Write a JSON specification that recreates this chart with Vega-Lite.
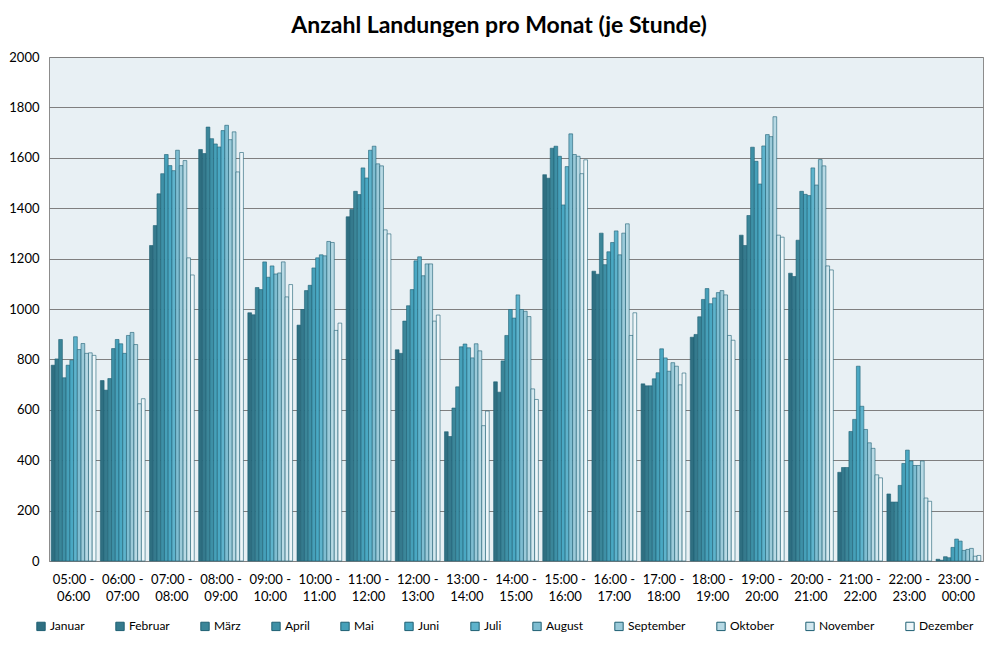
{
  "$schema": "https://vega.github.io/schema/vega-lite/v6.json",
  "width": 934,
  "height": 504,
  "autosize": "none",
  "padding": {"left": 49, "top": 57, "right": 17, "bottom": 86},
  "background": "white",
  "title": {
    "text": "Anzahl Landungen pro Monat (je Stunde)",
    "font": "Lato",
    "fontSize": 23,
    "fontWeight": "bold",
    "color": "#000000",
    "anchor": "middle",
    "dx": -17,
    "offset": 13
  },
  "data": {
    "values": [
      {"Stunde": "05:00 - 06:00", "Monat": "Januar", "Landungen": 777},
      {"Stunde": "05:00 - 06:00", "Monat": "Februar", "Landungen": 802},
      {"Stunde": "05:00 - 06:00", "Monat": "März", "Landungen": 879},
      {"Stunde": "05:00 - 06:00", "Monat": "April", "Landungen": 727},
      {"Stunde": "05:00 - 06:00", "Monat": "Mai", "Landungen": 777},
      {"Stunde": "05:00 - 06:00", "Monat": "Juni", "Landungen": 797},
      {"Stunde": "05:00 - 06:00", "Monat": "Juli", "Landungen": 890},
      {"Stunde": "05:00 - 06:00", "Monat": "August", "Landungen": 839},
      {"Stunde": "05:00 - 06:00", "Monat": "September", "Landungen": 863},
      {"Stunde": "05:00 - 06:00", "Monat": "Oktober", "Landungen": 824},
      {"Stunde": "05:00 - 06:00", "Monat": "November", "Landungen": 826},
      {"Stunde": "05:00 - 06:00", "Monat": "Dezember", "Landungen": 816},
      {"Stunde": "06:00 - 07:00", "Monat": "Januar", "Landungen": 716},
      {"Stunde": "06:00 - 07:00", "Monat": "Februar", "Landungen": 678},
      {"Stunde": "06:00 - 07:00", "Monat": "März", "Landungen": 724},
      {"Stunde": "06:00 - 07:00", "Monat": "April", "Landungen": 843},
      {"Stunde": "06:00 - 07:00", "Monat": "Mai", "Landungen": 879},
      {"Stunde": "06:00 - 07:00", "Monat": "Juni", "Landungen": 862},
      {"Stunde": "06:00 - 07:00", "Monat": "Juli", "Landungen": 824},
      {"Stunde": "06:00 - 07:00", "Monat": "August", "Landungen": 895},
      {"Stunde": "06:00 - 07:00", "Monat": "September", "Landungen": 907},
      {"Stunde": "06:00 - 07:00", "Monat": "Oktober", "Landungen": 859},
      {"Stunde": "06:00 - 07:00", "Monat": "November", "Landungen": 624},
      {"Stunde": "06:00 - 07:00", "Monat": "Dezember", "Landungen": 644},
      {"Stunde": "07:00 - 08:00", "Monat": "Januar", "Landungen": 1252},
      {"Stunde": "07:00 - 08:00", "Monat": "Februar", "Landungen": 1331},
      {"Stunde": "07:00 - 08:00", "Monat": "März", "Landungen": 1457},
      {"Stunde": "07:00 - 08:00", "Monat": "April", "Landungen": 1537},
      {"Stunde": "07:00 - 08:00", "Monat": "Mai", "Landungen": 1613},
      {"Stunde": "07:00 - 08:00", "Monat": "Juni", "Landungen": 1569},
      {"Stunde": "07:00 - 08:00", "Monat": "Juli", "Landungen": 1549},
      {"Stunde": "07:00 - 08:00", "Monat": "August", "Landungen": 1630},
      {"Stunde": "07:00 - 08:00", "Monat": "September", "Landungen": 1569},
      {"Stunde": "07:00 - 08:00", "Monat": "Oktober", "Landungen": 1589},
      {"Stunde": "07:00 - 08:00", "Monat": "November", "Landungen": 1203},
      {"Stunde": "07:00 - 08:00", "Monat": "Dezember", "Landungen": 1135},
      {"Stunde": "08:00 - 09:00", "Monat": "Januar", "Landungen": 1633},
      {"Stunde": "08:00 - 09:00", "Monat": "Februar", "Landungen": 1617},
      {"Stunde": "08:00 - 09:00", "Monat": "März", "Landungen": 1722},
      {"Stunde": "08:00 - 09:00", "Monat": "April", "Landungen": 1676},
      {"Stunde": "08:00 - 09:00", "Monat": "Mai", "Landungen": 1655},
      {"Stunde": "08:00 - 09:00", "Monat": "Juni", "Landungen": 1643},
      {"Stunde": "08:00 - 09:00", "Monat": "Juli", "Landungen": 1708},
      {"Stunde": "08:00 - 09:00", "Monat": "August", "Landungen": 1729},
      {"Stunde": "08:00 - 09:00", "Monat": "September", "Landungen": 1672},
      {"Stunde": "08:00 - 09:00", "Monat": "Oktober", "Landungen": 1703},
      {"Stunde": "08:00 - 09:00", "Monat": "November", "Landungen": 1544},
      {"Stunde": "08:00 - 09:00", "Monat": "Dezember", "Landungen": 1621},
      {"Stunde": "09:00 - 10:00", "Monat": "Januar", "Landungen": 985},
      {"Stunde": "09:00 - 10:00", "Monat": "Februar", "Landungen": 977},
      {"Stunde": "09:00 - 10:00", "Monat": "März", "Landungen": 1085},
      {"Stunde": "09:00 - 10:00", "Monat": "April", "Landungen": 1077},
      {"Stunde": "09:00 - 10:00", "Monat": "Mai", "Landungen": 1187},
      {"Stunde": "09:00 - 10:00", "Monat": "Juni", "Landungen": 1126},
      {"Stunde": "09:00 - 10:00", "Monat": "Juli", "Landungen": 1171},
      {"Stunde": "09:00 - 10:00", "Monat": "August", "Landungen": 1139},
      {"Stunde": "09:00 - 10:00", "Monat": "September", "Landungen": 1143},
      {"Stunde": "09:00 - 10:00", "Monat": "Oktober", "Landungen": 1187},
      {"Stunde": "09:00 - 10:00", "Monat": "November", "Landungen": 1048},
      {"Stunde": "09:00 - 10:00", "Monat": "Dezember", "Landungen": 1097},
      {"Stunde": "10:00 - 11:00", "Monat": "Januar", "Landungen": 936},
      {"Stunde": "10:00 - 11:00", "Monat": "Februar", "Landungen": 998},
      {"Stunde": "10:00 - 11:00", "Monat": "März", "Landungen": 1073},
      {"Stunde": "10:00 - 11:00", "Monat": "April", "Landungen": 1094},
      {"Stunde": "10:00 - 11:00", "Monat": "Mai", "Landungen": 1163},
      {"Stunde": "10:00 - 11:00", "Monat": "Juni", "Landungen": 1203},
      {"Stunde": "10:00 - 11:00", "Monat": "Juli", "Landungen": 1215},
      {"Stunde": "10:00 - 11:00", "Monat": "August", "Landungen": 1211},
      {"Stunde": "10:00 - 11:00", "Monat": "September", "Landungen": 1268},
      {"Stunde": "10:00 - 11:00", "Monat": "Oktober", "Landungen": 1264},
      {"Stunde": "10:00 - 11:00", "Monat": "November", "Landungen": 915},
      {"Stunde": "10:00 - 11:00", "Monat": "Dezember", "Landungen": 944},
      {"Stunde": "11:00 - 12:00", "Monat": "Januar", "Landungen": 1366},
      {"Stunde": "11:00 - 12:00", "Monat": "Februar", "Landungen": 1395},
      {"Stunde": "11:00 - 12:00", "Monat": "März", "Landungen": 1467},
      {"Stunde": "11:00 - 12:00", "Monat": "April", "Landungen": 1454},
      {"Stunde": "11:00 - 12:00", "Monat": "Mai", "Landungen": 1560},
      {"Stunde": "11:00 - 12:00", "Monat": "Juni", "Landungen": 1520},
      {"Stunde": "11:00 - 12:00", "Monat": "Juli", "Landungen": 1630},
      {"Stunde": "11:00 - 12:00", "Monat": "August", "Landungen": 1646},
      {"Stunde": "11:00 - 12:00", "Monat": "September", "Landungen": 1576},
      {"Stunde": "11:00 - 12:00", "Monat": "Oktober", "Landungen": 1568},
      {"Stunde": "11:00 - 12:00", "Monat": "November", "Landungen": 1314},
      {"Stunde": "11:00 - 12:00", "Monat": "Dezember", "Landungen": 1298},
      {"Stunde": "12:00 - 13:00", "Monat": "Januar", "Landungen": 838},
      {"Stunde": "12:00 - 13:00", "Monat": "Februar", "Landungen": 824},
      {"Stunde": "12:00 - 13:00", "Monat": "März", "Landungen": 952},
      {"Stunde": "12:00 - 13:00", "Monat": "April", "Landungen": 1013},
      {"Stunde": "12:00 - 13:00", "Monat": "Mai", "Landungen": 1077},
      {"Stunde": "12:00 - 13:00", "Monat": "Juni", "Landungen": 1191},
      {"Stunde": "12:00 - 13:00", "Monat": "Juli", "Landungen": 1207},
      {"Stunde": "12:00 - 13:00", "Monat": "August", "Landungen": 1132},
      {"Stunde": "12:00 - 13:00", "Monat": "September", "Landungen": 1179},
      {"Stunde": "12:00 - 13:00", "Monat": "Oktober", "Landungen": 1179},
      {"Stunde": "12:00 - 13:00", "Monat": "November", "Landungen": 952},
      {"Stunde": "12:00 - 13:00", "Monat": "Dezember", "Landungen": 976},
      {"Stunde": "13:00 - 14:00", "Monat": "Januar", "Landungen": 513},
      {"Stunde": "13:00 - 14:00", "Monat": "Februar", "Landungen": 494},
      {"Stunde": "13:00 - 14:00", "Monat": "März", "Landungen": 607},
      {"Stunde": "13:00 - 14:00", "Monat": "April", "Landungen": 691},
      {"Stunde": "13:00 - 14:00", "Monat": "Mai", "Landungen": 850},
      {"Stunde": "13:00 - 14:00", "Monat": "Juni", "Landungen": 861},
      {"Stunde": "13:00 - 14:00", "Monat": "Juli", "Landungen": 846},
      {"Stunde": "13:00 - 14:00", "Monat": "August", "Landungen": 806},
      {"Stunde": "13:00 - 14:00", "Monat": "September", "Landungen": 862},
      {"Stunde": "13:00 - 14:00", "Monat": "Oktober", "Landungen": 834},
      {"Stunde": "13:00 - 14:00", "Monat": "November", "Landungen": 537},
      {"Stunde": "13:00 - 14:00", "Monat": "Dezember", "Landungen": 595},
      {"Stunde": "14:00 - 15:00", "Monat": "Januar", "Landungen": 711},
      {"Stunde": "14:00 - 15:00", "Monat": "Februar", "Landungen": 670},
      {"Stunde": "14:00 - 15:00", "Monat": "März", "Landungen": 794},
      {"Stunde": "14:00 - 15:00", "Monat": "April", "Landungen": 895},
      {"Stunde": "14:00 - 15:00", "Monat": "Mai", "Landungen": 998},
      {"Stunde": "14:00 - 15:00", "Monat": "Juni", "Landungen": 964},
      {"Stunde": "14:00 - 15:00", "Monat": "Juli", "Landungen": 1056},
      {"Stunde": "14:00 - 15:00", "Monat": "August", "Landungen": 998},
      {"Stunde": "14:00 - 15:00", "Monat": "September", "Landungen": 991},
      {"Stunde": "14:00 - 15:00", "Monat": "Oktober", "Landungen": 970},
      {"Stunde": "14:00 - 15:00", "Monat": "November", "Landungen": 683},
      {"Stunde": "14:00 - 15:00", "Monat": "Dezember", "Landungen": 641},
      {"Stunde": "15:00 - 16:00", "Monat": "Januar", "Landungen": 1533},
      {"Stunde": "15:00 - 16:00", "Monat": "Februar", "Landungen": 1519},
      {"Stunde": "15:00 - 16:00", "Monat": "März", "Landungen": 1638},
      {"Stunde": "15:00 - 16:00", "Monat": "April", "Landungen": 1646},
      {"Stunde": "15:00 - 16:00", "Monat": "Mai", "Landungen": 1606},
      {"Stunde": "15:00 - 16:00", "Monat": "Juni", "Landungen": 1413},
      {"Stunde": "15:00 - 16:00", "Monat": "Juli", "Landungen": 1565},
      {"Stunde": "15:00 - 16:00", "Monat": "August", "Landungen": 1695},
      {"Stunde": "15:00 - 16:00", "Monat": "September", "Landungen": 1613},
      {"Stunde": "15:00 - 16:00", "Monat": "Oktober", "Landungen": 1606},
      {"Stunde": "15:00 - 16:00", "Monat": "November", "Landungen": 1537},
      {"Stunde": "15:00 - 16:00", "Monat": "Dezember", "Landungen": 1592},
      {"Stunde": "16:00 - 17:00", "Monat": "Januar", "Landungen": 1150},
      {"Stunde": "16:00 - 17:00", "Monat": "Februar", "Landungen": 1138},
      {"Stunde": "16:00 - 17:00", "Monat": "März", "Landungen": 1301},
      {"Stunde": "16:00 - 17:00", "Monat": "April", "Landungen": 1176},
      {"Stunde": "16:00 - 17:00", "Monat": "Mai", "Landungen": 1227},
      {"Stunde": "16:00 - 17:00", "Monat": "Juni", "Landungen": 1264},
      {"Stunde": "16:00 - 17:00", "Monat": "Juli", "Landungen": 1310},
      {"Stunde": "16:00 - 17:00", "Monat": "August", "Landungen": 1215},
      {"Stunde": "16:00 - 17:00", "Monat": "September", "Landungen": 1301},
      {"Stunde": "16:00 - 17:00", "Monat": "Oktober", "Landungen": 1338},
      {"Stunde": "16:00 - 17:00", "Monat": "November", "Landungen": 895},
      {"Stunde": "16:00 - 17:00", "Monat": "Dezember", "Landungen": 985},
      {"Stunde": "17:00 - 18:00", "Monat": "Januar", "Landungen": 703},
      {"Stunde": "17:00 - 18:00", "Monat": "Februar", "Landungen": 695},
      {"Stunde": "17:00 - 18:00", "Monat": "März", "Landungen": 695},
      {"Stunde": "17:00 - 18:00", "Monat": "April", "Landungen": 723},
      {"Stunde": "17:00 - 18:00", "Monat": "Mai", "Landungen": 747},
      {"Stunde": "17:00 - 18:00", "Monat": "Juni", "Landungen": 842},
      {"Stunde": "17:00 - 18:00", "Monat": "Juli", "Landungen": 806},
      {"Stunde": "17:00 - 18:00", "Monat": "August", "Landungen": 753},
      {"Stunde": "17:00 - 18:00", "Monat": "September", "Landungen": 787},
      {"Stunde": "17:00 - 18:00", "Monat": "Oktober", "Landungen": 773},
      {"Stunde": "17:00 - 18:00", "Monat": "November", "Landungen": 699},
      {"Stunde": "17:00 - 18:00", "Monat": "Dezember", "Landungen": 746},
      {"Stunde": "18:00 - 19:00", "Monat": "Januar", "Landungen": 888},
      {"Stunde": "18:00 - 19:00", "Monat": "Februar", "Landungen": 899},
      {"Stunde": "18:00 - 19:00", "Monat": "März", "Landungen": 969},
      {"Stunde": "18:00 - 19:00", "Monat": "April", "Landungen": 1038},
      {"Stunde": "18:00 - 19:00", "Monat": "Mai", "Landungen": 1081},
      {"Stunde": "18:00 - 19:00", "Monat": "Juni", "Landungen": 1021},
      {"Stunde": "18:00 - 19:00", "Monat": "Juli", "Landungen": 1044},
      {"Stunde": "18:00 - 19:00", "Monat": "August", "Landungen": 1065},
      {"Stunde": "18:00 - 19:00", "Monat": "September", "Landungen": 1073},
      {"Stunde": "18:00 - 19:00", "Monat": "Oktober", "Landungen": 1056},
      {"Stunde": "18:00 - 19:00", "Monat": "November", "Landungen": 895},
      {"Stunde": "18:00 - 19:00", "Monat": "Dezember", "Landungen": 876},
      {"Stunde": "19:00 - 20:00", "Monat": "Januar", "Landungen": 1293},
      {"Stunde": "19:00 - 20:00", "Monat": "Februar", "Landungen": 1252},
      {"Stunde": "19:00 - 20:00", "Monat": "März", "Landungen": 1371},
      {"Stunde": "19:00 - 20:00", "Monat": "April", "Landungen": 1642},
      {"Stunde": "19:00 - 20:00", "Monat": "Mai", "Landungen": 1586},
      {"Stunde": "19:00 - 20:00", "Monat": "Juni", "Landungen": 1496},
      {"Stunde": "19:00 - 20:00", "Monat": "Juli", "Landungen": 1647},
      {"Stunde": "19:00 - 20:00", "Monat": "August", "Landungen": 1692},
      {"Stunde": "19:00 - 20:00", "Monat": "September", "Landungen": 1684},
      {"Stunde": "19:00 - 20:00", "Monat": "Oktober", "Landungen": 1763},
      {"Stunde": "19:00 - 20:00", "Monat": "November", "Landungen": 1293},
      {"Stunde": "19:00 - 20:00", "Monat": "Dezember", "Landungen": 1285},
      {"Stunde": "20:00 - 21:00", "Monat": "Januar", "Landungen": 1142},
      {"Stunde": "20:00 - 21:00", "Monat": "Februar", "Landungen": 1129},
      {"Stunde": "20:00 - 21:00", "Monat": "März", "Landungen": 1273},
      {"Stunde": "20:00 - 21:00", "Monat": "April", "Landungen": 1467},
      {"Stunde": "20:00 - 21:00", "Monat": "Mai", "Landungen": 1455},
      {"Stunde": "20:00 - 21:00", "Monat": "Juni", "Landungen": 1450},
      {"Stunde": "20:00 - 21:00", "Monat": "Juli", "Landungen": 1560},
      {"Stunde": "20:00 - 21:00", "Monat": "August", "Landungen": 1492},
      {"Stunde": "20:00 - 21:00", "Monat": "September", "Landungen": 1593},
      {"Stunde": "20:00 - 21:00", "Monat": "Oktober", "Landungen": 1568},
      {"Stunde": "20:00 - 21:00", "Monat": "November", "Landungen": 1171},
      {"Stunde": "20:00 - 21:00", "Monat": "Dezember", "Landungen": 1155},
      {"Stunde": "21:00 - 22:00", "Monat": "Januar", "Landungen": 352},
      {"Stunde": "21:00 - 22:00", "Monat": "Februar", "Landungen": 371},
      {"Stunde": "21:00 - 22:00", "Monat": "März", "Landungen": 371},
      {"Stunde": "21:00 - 22:00", "Monat": "April", "Landungen": 514},
      {"Stunde": "21:00 - 22:00", "Monat": "Mai", "Landungen": 562},
      {"Stunde": "21:00 - 22:00", "Monat": "Juni", "Landungen": 773},
      {"Stunde": "21:00 - 22:00", "Monat": "Juli", "Landungen": 614},
      {"Stunde": "21:00 - 22:00", "Monat": "August", "Landungen": 522},
      {"Stunde": "21:00 - 22:00", "Monat": "September", "Landungen": 469},
      {"Stunde": "21:00 - 22:00", "Monat": "Oktober", "Landungen": 447},
      {"Stunde": "21:00 - 22:00", "Monat": "November", "Landungen": 342},
      {"Stunde": "21:00 - 22:00", "Monat": "Dezember", "Landungen": 330},
      {"Stunde": "22:00 - 23:00", "Monat": "Januar", "Landungen": 266},
      {"Stunde": "22:00 - 23:00", "Monat": "Februar", "Landungen": 234},
      {"Stunde": "22:00 - 23:00", "Monat": "März", "Landungen": 234},
      {"Stunde": "22:00 - 23:00", "Monat": "April", "Landungen": 300},
      {"Stunde": "22:00 - 23:00", "Monat": "Mai", "Landungen": 387},
      {"Stunde": "22:00 - 23:00", "Monat": "Juni", "Landungen": 440},
      {"Stunde": "22:00 - 23:00", "Monat": "Juli", "Landungen": 397},
      {"Stunde": "22:00 - 23:00", "Monat": "August", "Landungen": 379},
      {"Stunde": "22:00 - 23:00", "Monat": "September", "Landungen": 379},
      {"Stunde": "22:00 - 23:00", "Monat": "Oktober", "Landungen": 397},
      {"Stunde": "22:00 - 23:00", "Monat": "November", "Landungen": 250},
      {"Stunde": "22:00 - 23:00", "Monat": "Dezember", "Landungen": 237},
      {"Stunde": "23:00 - 00:00", "Monat": "Januar", "Landungen": 7},
      {"Stunde": "23:00 - 00:00", "Monat": "Februar", "Landungen": 3},
      {"Stunde": "23:00 - 00:00", "Monat": "März", "Landungen": 17},
      {"Stunde": "23:00 - 00:00", "Monat": "April", "Landungen": 13},
      {"Stunde": "23:00 - 00:00", "Monat": "Mai", "Landungen": 54},
      {"Stunde": "23:00 - 00:00", "Monat": "Juni", "Landungen": 87},
      {"Stunde": "23:00 - 00:00", "Monat": "Juli", "Landungen": 79},
      {"Stunde": "23:00 - 00:00", "Monat": "August", "Landungen": 42},
      {"Stunde": "23:00 - 00:00", "Monat": "September", "Landungen": 46},
      {"Stunde": "23:00 - 00:00", "Monat": "Oktober", "Landungen": 50},
      {"Stunde": "23:00 - 00:00", "Monat": "November", "Landungen": 19},
      {"Stunde": "23:00 - 00:00", "Monat": "Dezember", "Landungen": 22}
    ]
  },
  "mark": {"type": "bar", "stroke": "#1f6073", "strokeWidth": 0.6},
  "encoding": {
    "x": {
      "field": "Stunde",
      "type": "nominal",
      "sort": null,
      "title": null,
      "scale": {"paddingInner": 0.09, "paddingOuter": 0.045},
      "axis": {
        "labelAngle": 0,
        "labelExpr": "[slice(datum.label, 0, 7), slice(datum.label, 8)]",
        "labelFont": "Lato",
        "labelFontSize": 13,
        "labelColor": "#000000",
        "labelLineHeight": 17,
        "labelBaseline": "top",
        "labelPadding": 12,
        "ticks": false,
        "domain": false
      }
    },
    "xOffset": {
      "field": "Monat",
      "type": "nominal",
      "sort": ["Januar", "Februar", "März", "April", "Mai", "Juni", "Juli", "August", "September", "Oktober", "November", "Dezember"],
      "scale": {"paddingInner": 0, "paddingOuter": 0}
    },
    "y": {
      "field": "Landungen",
      "type": "quantitative",
      "title": null,
      "scale": {"domain": [0, 2000], "nice": false},
      "axis": {
        "values": [0, 200, 400, 600, 800, 1000, 1200, 1400, 1600, 1800, 2000],
        "format": "d",
        "labelFont": "Lato",
        "labelFontSize": 13,
        "labelColor": "#000000",
        "labelPadding": 10,
        "ticks": false,
        "domain": false,
        "gridColor": "#7f7f7f",
        "gridWidth": 1
      }
    },
    "color": {
      "field": "Monat",
      "type": "nominal",
      "title": null,
      "scale": {
        "domain": ["Januar", "Februar", "März", "April", "Mai", "Juni", "Juli", "August", "September", "Oktober", "November", "Dezember"],
        "range": ["#2f6f81", "#357a8d", "#3b8699", "#3e90a6", "#46a0b9", "#4aa8c3", "#5eb3cc", "#7ebdd1", "#9bcad9", "#b7d9e4", "#d3e8ef", "#eef6f9"]
      },
      "legend": {
        "orient": "none",
        "legendX": -14,
        "legendY": 563,
        "direction": "horizontal",
        "columns": 12,
        "columnPadding": 28,
        "symbolType": "square",
        "symbolSize": 70,
        "symbolStrokeColor": "#1f6073",
        "symbolStrokeWidth": 1,
        "labelFont": "Lato",
        "labelFontSize": 12,
        "labelColor": "#000000",
        "labelOffset": 3
      }
    }
  },
  "config": {
    "view": {"fill": "#e8f0f4", "stroke": "#8c8c8c", "strokeWidth": 1}
  }
}
